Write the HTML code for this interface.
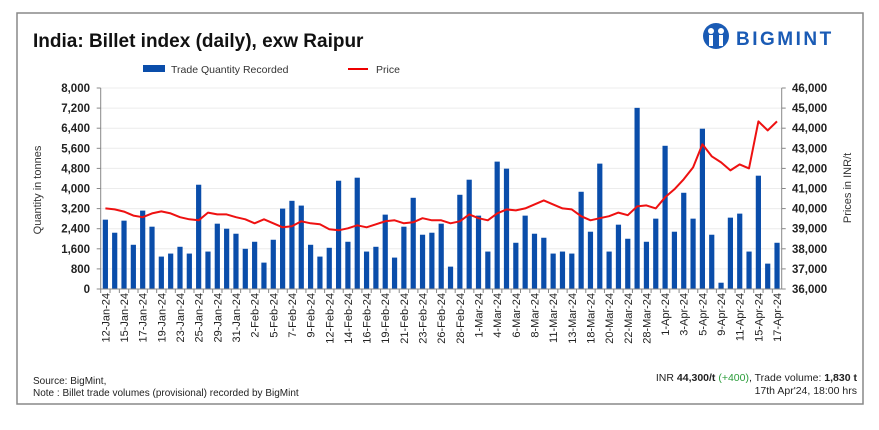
<!DOCTYPE html>
<html><head><meta charset="utf-8"><style>
body{margin:0;background:#fff;width:879px;height:425px;overflow:hidden;font-family:"Liberation Sans",sans-serif}
</style></head><body>
<svg id="chart" width="879" height="425" xmlns="http://www.w3.org/2000/svg">
<rect x="17" y="13" width="846" height="391" fill="#fff" stroke="#888" stroke-width="1.5"/>
<text x="33" y="47" font-size="19" font-weight="bold" fill="#111">India: Billet index (daily), exw Raipur</text>
<g>
<circle cx="716" cy="36" r="13" fill="#1a5bb5"/>
<circle cx="711" cy="31" r="3" fill="#fff"/><circle cx="721" cy="31" r="3" fill="#fff"/>
<rect x="709" y="35" width="4" height="11" fill="#fff"/><rect x="719" y="35" width="4" height="11" fill="#fff"/>
<text x="736" y="45" font-size="19" font-weight="bold" fill="#1a5bb5" letter-spacing="2.5">BIGMINT</text>
</g>
<g>
<rect x="143" y="65" width="22" height="7" fill="#0a4daa"/>
<text x="171" y="73" font-size="10.5" fill="#333">Trade Quantity Recorded</text>
<line x1="348" y1="69" x2="368" y2="69" stroke="#e00" stroke-width="2"/>
<text x="376" y="73" font-size="10.5" fill="#333">Price</text>
</g>
<text transform="translate(41,190) rotate(-90)" text-anchor="middle" font-size="11" fill="#333">Quantity in tonnes</text>
<text transform="translate(851,188) rotate(-90)" text-anchor="middle" font-size="11" fill="#333">Prices in INR/t</text>
<g id="plot"></g>
<text x="33" y="384" font-size="10" fill="#222">Source: BigMint,</text>
<text x="33" y="396" font-size="10" fill="#222">Note : Billet trade volumes (provisional) recorded by BigMint</text>
<text x="857" y="381" text-anchor="end" font-size="10.5" fill="#222">INR <tspan font-weight="bold">44,300/t</tspan> <tspan fill="#2a9d3a">(+400)</tspan>, Trade volume: <tspan font-weight="bold">1,830 t</tspan></text>
<text x="857" y="394" text-anchor="end" font-size="10.5" fill="#222">17th Apr'24, 18:00 hrs</text>
</svg>
<script>
const dateLabels=["12-Jan-24","15-Jan-24","17-Jan-24","19-Jan-24","23-Jan-24","25-Jan-24","29-Jan-24","31-Jan-24","2-Feb-24","5-Feb-24","7-Feb-24","9-Feb-24","12-Feb-24","14-Feb-24","16-Feb-24","19-Feb-24","21-Feb-24","23-Feb-24","26-Feb-24","28-Feb-24","1-Mar-24","4-Mar-24","6-Mar-24","8-Mar-24","11-Mar-24","13-Mar-24","18-Mar-24","20-Mar-24","22-Mar-24","28-Mar-24","1-Apr-24","3-Apr-24","5-Apr-24","9-Apr-24","11-Apr-24","15-Apr-24","17-Apr-24"];
const quantity=[2760,2240,2720,1760,3120,2480,1290,1410,1680,1410,4150,1490,2600,2400,2200,1600,1880,1050,1960,3200,3510,3320,1760,1290,1640,4310,1880,4430,1490,1680,2960,1250,2480,3630,2160,2240,2600,890,3750,4350,2920,1490,5070,4790,1840,2920,2200,2040,1410,1490,1410,3870,2280,4990,1490,2560,2000,7210,1880,2800,5700,2280,3830,2800,6380,2160,250,2840,3000,1490,4510,1010,1840];
const price=[40010,39960,39850,39650,39570,39760,39860,39760,39570,39470,39420,39800,39710,39710,39570,39470,39270,39470,39270,39070,39120,39370,39270,39220,38970,38920,39020,39170,39070,39220,39370,39420,39270,39320,39520,39420,39420,39270,39370,39710,39520,39420,39760,39960,39910,40010,40210,40410,40210,40010,39960,39620,39420,39520,39620,39800,39670,40110,40160,40010,40560,40960,41460,42050,43200,42600,42300,41900,42200,42000,44340,43890,44340];
const leftTicks=[0,800,1600,2400,3200,4000,4800,5600,6400,7200,8000];
const rightTicks=[36000,37000,38000,39000,40000,41000,42000,43000,44000,45000,46000];

const NS="http://www.w3.org/2000/svg";
const g=document.getElementById('plot');
const X0=100.7,X1=781.7,Y0=289,Y1=88;
const n=quantity.length,step=(X1-X0)/n;
const xC=i=>X0+step*(i+0.5);
const yL=v=>Y0-(v-0)/(8000-0)*(Y0-Y1);
const yR=v=>Y0-(v-36000)/(46000-36000)*(Y0-Y1);
function mk(t,a){const e=document.createElementNS(NS,t);for(const k in a)e.setAttribute(k,a[k]);g.appendChild(e);return e;}
leftTicks.forEach((v,i)=>{
  const y=yL(v);
  if(i>0){const gl=mk('line',{x1:X0,x2:X1,y1:y,y2:y,stroke:'#ececec','stroke-width':1});
  
  }
  const tk=mk('line',{x1:X0-4,x2:X0,y1:y,y2:y,stroke:'#888'});
  
  
  const t=mk('text',{x:90,y:y+4,'text-anchor':'end','font-size':11.5,'font-weight':'bold',fill:'#222'});
  t.textContent=v.toLocaleString('en-US');
  
  
});
rightTicks.forEach(v=>{
  const y=yR(v);
  const tk=mk('line',{x1:X1,x2:X1+4,y1:y,y2:y,stroke:'#888'});
  
  
  const t=mk('text',{x:792,y:y+4,'font-size':11.5,'font-weight':'bold',fill:'#222'});
  t.textContent=v.toLocaleString('en-US');
  
  
});
quantity.forEach((v,i)=>{
  const b=mk('rect',{x:xC(i)-2.6,width:5.2,y:yL(v),height:Y0-yL(v),fill:'#0a4daa'});
  
  
  const tk=mk('line',{x1:X0+step*i,x2:X0+step*i,y1:Y0,y2:Y0+4,stroke:'#888'});
  
  
});
const ax1=mk('line',{x1:X0,x2:X0,y1:Y1,y2:Y0,stroke:'#888'});


const ax2=mk('line',{x1:X1,x2:X1,y1:Y1,y2:Y0,stroke:'#888'});


const ax3=mk('line',{x1:X0,x2:X1,y1:Y0,y2:Y0,stroke:'#888'});


const pl=mk('polyline',{points:price.map((v,i)=>xC(i).toFixed(1)+','+yR(v).toFixed(1)).join(' '),fill:'none',stroke:'#ee1111','stroke-width':2,'stroke-linejoin':'round'});


dateLabels.forEach((d,k)=>{
  const x=xC(k*2)+4;
  const t=mk('text',{transform:`translate(${x.toFixed(1)},293) rotate(-90)`,'text-anchor':'end','font-size':11,fill:'#222'});
  t.textContent=d;
  
  
});
</script>
</body></html>
